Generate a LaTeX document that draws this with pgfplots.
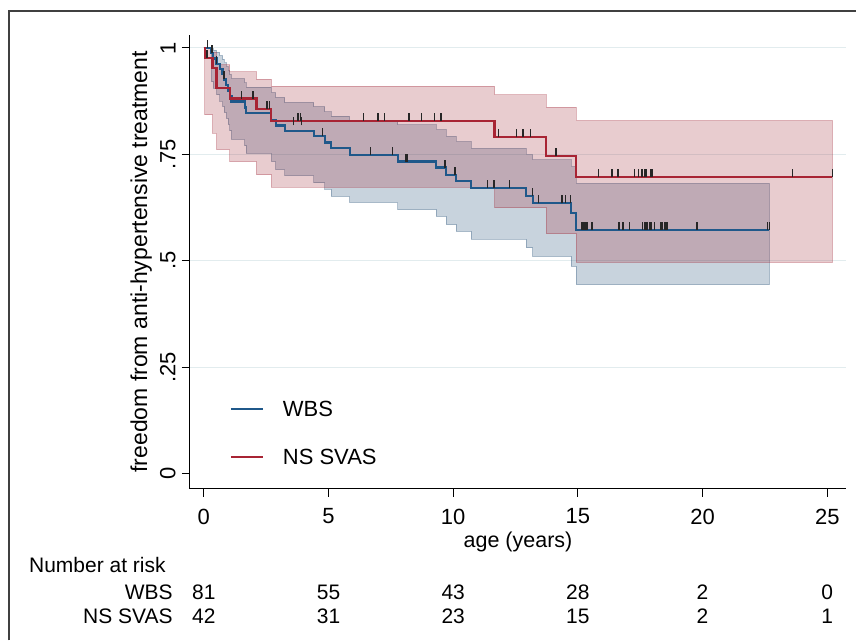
\documentclass[border=0pt]{standalone}
\usepackage{fontspec}
\setmainfont{Liberation Sans}
\usepackage{pgfplots}
\usepackage{pgfplotstable}
\pgfplotsset{compat=1.18}
\usepgfplotslibrary{fillbetween}
\definecolor{kmblue}{RGB}{31,88,138}
\definecolor{kmred}{RGB}{168,36,52}
\definecolor{bandblue}{RGB}{26,71,111}
\definecolor{bandred}{RGB}{160,40,55}
\definecolor{gridc}{RGB}{226,236,238}
\newcommand\lf{\fontsize{22bp}{26bp}\selectfont}
\newcommand\rf{\fontsize{21bp}{25bp}\selectfont}
\newcommand\yf{\fontsize{23bp}{27bp}\selectfont}
\newcommand\xf{\fontsize{21.5bp}{26bp}\selectfont}
\pgfdeclareplotmark{utick}{\pgfpathmoveto{\pgfqpoint{0pt}{0pt}}\pgfpathlineto{\pgfqpoint{0pt}{8bp}}\pgfusepathqstroke}

\pgfplotstableread{
t s
0 1
0.30 0.988
0.37 0.975
0.51 0.963
0.64 0.950
0.75 0.938
0.81 0.926
0.90 0.913
0.97 0.900
1.04 0.887
1.11 0.874
1.64 0.860
1.70 0.847
2.71 0.831
2.88 0.818
3.25 0.805
4.41 0.793
4.85 0.778
5.11 0.764
5.85 0.749
7.78 0.733
9.32 0.719
9.72 0.702
10.12 0.688
10.72 0.671
12.92 0.653
13.19 0.635
14.73 0.612
14.93 0.573
22.68 0.573
}\wbsS

\pgfplotstableread{
t s
0 1
0.30 0.998
0.37 0.995
0.51 0.990
0.64 0.982
0.75 0.974
0.81 0.965
0.90 0.956
0.97 0.947
1.04 0.938
1.11 0.928
1.64 0.918
1.70 0.908
2.71 0.895
2.88 0.884
3.25 0.872
4.41 0.862
4.85 0.850
5.11 0.840
5.85 0.828
7.78 0.819
9.32 0.808
9.72 0.792
10.12 0.780
10.72 0.764
12.92 0.749
13.19 0.737
14.73 0.721
14.93 0.682
22.68 0.682
}\wbsU

\pgfplotstableread{
t s
0 1
0.30 0.920
0.37 0.905
0.51 0.890
0.64 0.875
0.75 0.862
0.81 0.848
0.90 0.834
0.97 0.820
1.04 0.805
1.11 0.785
1.64 0.770
1.70 0.752
2.71 0.733
2.88 0.714
3.25 0.700
4.41 0.683
4.85 0.668
5.11 0.651
5.85 0.637
7.78 0.620
9.32 0.604
9.72 0.585
10.12 0.569
10.72 0.551
12.92 0.530
13.19 0.510
14.73 0.487
14.93 0.444
22.68 0.444
}\wbsL

\pgfplotstableread{
t s
0.15 1
0.33 0.988
0.51 0.963
0.81 0.926
3.60 0.818
3.91 0.818
4.75 0.793
6.69 0.749
7.56 0.749
8.09 0.733
8.15 0.733
9.66 0.719
9.70 0.719
10.08 0.702
11.37 0.671
11.63 0.671
12.26 0.671
13.17 0.653
13.42 0.635
14.36 0.635
14.50 0.635
14.70 0.635
15.17 0.573
15.24 0.573
15.30 0.573
15.37 0.573
15.57 0.573
16.64 0.573
16.80 0.573
17.07 0.573
17.60 0.573
17.67 0.573
17.74 0.573
17.80 0.573
17.87 0.573
17.94 0.573
18.07 0.573
18.34 0.573
18.40 0.573
18.47 0.573
18.54 0.573
18.60 0.573
19.78 0.573
22.61 0.573
22.68 0.573
}\wbsC

\pgfplotstableread{
t s
0 1
0.04 0.976
0.35 0.952
0.51 0.905
1.04 0.881
2.11 0.857
2.71 0.829
11.66 0.790
13.73 0.746
14.93 0.696
25.20 0.696
}\nsS

\pgfplotstableread{
t s
0 1
0.04 0.998
0.35 0.990
0.51 0.960
1.04 0.944
2.11 0.927
2.71 0.910
11.66 0.890
13.73 0.861
14.93 0.829
25.20 0.829
}\nsU

\pgfplotstableread{
t s
0 1
0.04 0.843
0.35 0.800
0.51 0.761
1.04 0.733
2.11 0.702
2.71 0.673
11.66 0.624
13.73 0.563
14.93 0.496
25.20 0.496
}\nsL

\pgfplotstableread{
t s
0.12 0.976
1.51 0.881
1.98 0.881
2.54 0.857
2.64 0.857
3.78 0.829
3.87 0.829
6.41 0.829
6.98 0.829
7.25 0.829
8.22 0.829
8.72 0.829
9.25 0.829
9.52 0.829
11.82 0.790
12.53 0.790
12.79 0.790
13.09 0.790
14.13 0.746
15.83 0.696
16.36 0.696
16.60 0.696
17.27 0.696
17.43 0.696
17.58 0.696
17.70 0.696
17.76 0.696
17.94 0.696
18.00 0.696
23.61 0.696
25.20 0.696
}\nsC

\pgfplotstableread{
x y n
0 -0.2786 81
5 -0.2786 55
10 -0.2786 43
15 -0.2786 28
20 -0.2786 2
25 -0.2786 0
}\riskW

\pgfplotstableread{
x y n
0 -0.3357 42
5 -0.3357 31
10 -0.3357 23
15 -0.3357 15
20 -0.3357 2
25 -0.3357 1
}\riskN

\begin{document}
\begin{tikzpicture}
\path (0,0) rectangle (857bp,641bp);
\draw[line width=1.6bp, black!75] (9bp,0bp) -- (9bp,630bp) -- (857bp,630bp);
\begin{axis}[
  at={(190bp,152bp)}, anchor=south west,
  scale only axis, width=657bp, height=454bp,
  xmin=-0.561, xmax=25.76, ymin=-0.0352, ymax=1.0305,
  axis x line*=bottom, axis y line*=left,
  axis line style={black, line width=1.1bp},
  tick align=outside, major tick length=8bp,
  tick style={black, line width=1bp},
  xtick={0,5,10,15,20,25}, xticklabels={0,5,10,15,20,25},
  ytick={0,0.25,0.5,0.75,1}, yticklabels={0,.25,.5,.75,1},
  extra y ticks={0.25,0.5,0.75,1}, extra y tick labels={,,,},
  extra y tick style={grid=major},
  major grid style={gridc, line width=0.9bp},
  tick label style={font=\lf, inner sep=0pt},
  yticklabel style={rotate=90, anchor=south},
  xticklabel style={anchor=north},
  xticklabel shift=12bp, yticklabel shift=6bp,
  xlabel={age (years)}, ylabel={freedom from anti-hypertensive treatment},
  every axis x label/.style={at={(axis description cs:0.5,-0.117)}, anchor=center, font=\xf, inner sep=0pt},
  every axis y label/.style={at={(axis description cs:-0.0741,0.5)}, rotate=90, anchor=center, font=\yf, inner sep=0pt},
  clip=false,
  legend style={draw=none, fill=none, inner sep=0pt, outer sep=0pt,
    at={(axis cs:1.042,0.171)}, anchor=north west, row sep=32bp, font=\lf,
    nodes={inner sep=0pt, text height=16bp, text depth=0pt},
    /tikz/every odd column/.append style={column sep=19bp}},
  legend image code/.code={\draw[#1, line width=2.2bp, opacity=1] (0bp,0bp) -- (32bp,0bp);},
  legend cell align=left,
]
% confidence bands
\addplot[name path=bu, draw=none, const plot, forget plot] table[x=t,y=s] {\wbsU};
\addplot[name path=bl, draw=none, const plot, forget plot] table[x=t,y=s] {\wbsL};
\addplot[fill=bandblue, fill opacity=0.24, draw=bandblue, draw opacity=0.32, line width=1bp, forget plot] fill between[of=bu and bl];
\addplot[name path=ru, draw=none, const plot, forget plot] table[x=t,y=s] {\nsU};
\addplot[name path=rl, draw=none, const plot, forget plot] table[x=t,y=s] {\nsL};
\addplot[fill=bandred, fill opacity=0.24, draw=bandred, draw opacity=0.32, line width=1bp, forget plot] fill between[of=ru and rl];
% survival curves
\addplot[kmblue, line width=2.2bp, const plot, forget plot] table[x=t,y=s] {\wbsS};
\addplot[kmred, line width=2.2bp, const plot, forget plot] table[x=t,y=s] {\nsS};
% censoring ticks
\addplot[only marks, mark=utick, mark options={line width=1.5bp, draw=black!85}, forget plot] table[x=t,y=s] {\wbsC};
\addplot[only marks, mark=utick, mark options={line width=1.5bp, draw=black!85}, forget plot] table[x=t,y=s] {\nsC};
% number at risk
\addplot[only marks, mark=none, point meta=explicit symbolic, nodes near coords,
  every node near coord/.append style={anchor=center, inner sep=0pt, font=\rf, text=black}, forget plot]
  table[x=x,y=y,meta=n] {\riskW};
\addplot[only marks, mark=none, point meta=explicit symbolic, nodes near coords,
  every node near coord/.append style={anchor=center, inner sep=0pt, font=\rf, text=black}, forget plot]
  table[x=x,y=y,meta=n] {\riskN};
% legend
\addlegendimage{draw=kmblue}
\addlegendentry{WBS}
\addlegendimage{draw=kmred}
\addlegendentry{NS SVAS}
\end{axis}
\node[anchor=west, inner sep=0pt, font=\rf] at (29bp,75bp) {Number at risk};
\node[anchor=east, inner sep=0pt, font=\rf] at (173bp,48.3bp) {WBS};
\node[anchor=east, inner sep=0pt, font=\rf] at (173bp,24bp) {NS SVAS};
\end{tikzpicture}
\end{document}
